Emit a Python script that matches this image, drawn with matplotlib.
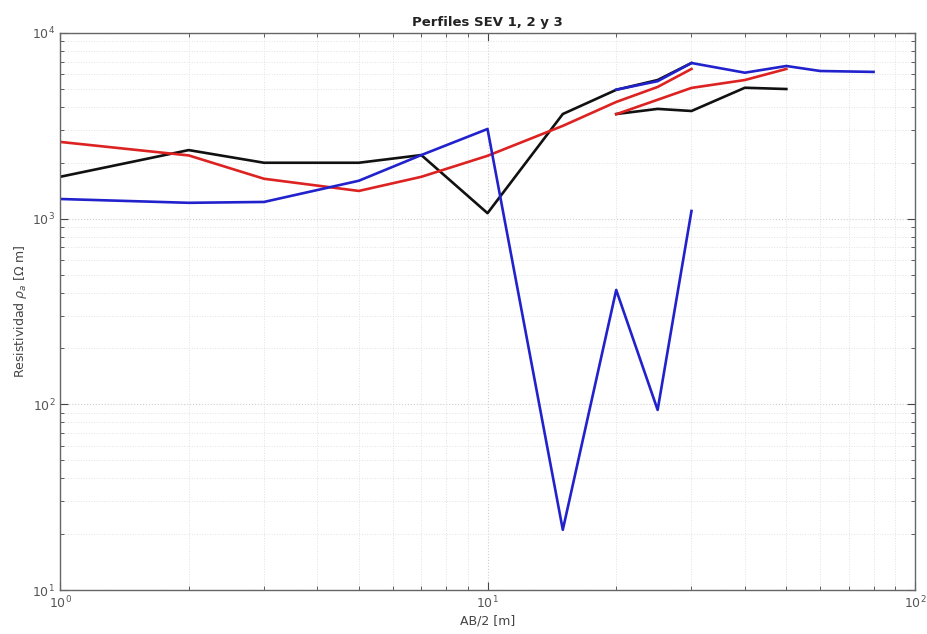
import matplotlib
matplotlib.use("Agg")
import matplotlib.pyplot as plt
from matplotlib.ticker import LogLocator, NullFormatter

# SEV 1 (black)
sev1_a_x = [1, 2, 3, 5, 7, 10, 15, 20, 25, 30]
sev1_a_y = [1680, 2340, 2000, 2000, 2200, 1070, 3660, 4940, 5580, 6890]
sev1_b_x = [20, 25, 30, 40, 50]
sev1_b_y = [3660, 3900, 3800, 5070, 4990]

# SEV 2 (red)
sev2_a_x = [1, 2, 3, 5, 7, 10, 15, 20, 25, 30]
sev2_a_y = [2590, 2190, 1640, 1410, 1680, 2180, 3160, 4250, 5120, 6400]
sev2_b_x = [20, 30, 40, 50]
sev2_b_y = [3650, 5060, 5580, 6400]

# SEV 3 (blue)
sev3_a_x = [1, 2, 3, 5, 7, 10, 15, 20, 25, 30]
sev3_a_y = [1276, 1217, 1230, 1600, 2200, 3040, 21.1, 413, 93.3, 1100]
sev3_b_x = [20, 25, 30, 40, 50, 60, 80]
sev3_b_y = [4950, 5500, 6890, 6110, 6640, 6240, 6170]

fig = plt.figure(figsize=(9.28, 6.34), dpi=100)
ax = fig.add_axes([0.0647, 0.0694, 0.9213, 0.8786])

lw = 1.9
ax.plot(sev1_a_x, sev1_a_y, color="#111111", lw=lw)
ax.plot(sev1_b_x, sev1_b_y, color="#111111", lw=lw)
ax.plot(sev2_a_x, sev2_a_y, color="#dd2222", lw=lw)
ax.plot(sev2_b_x, sev2_b_y, color="#dd2222", lw=lw)
ax.plot(sev3_a_x, sev3_a_y, color="#2222cc", lw=lw)
ax.plot(sev3_b_x, sev3_b_y, color="#2222cc", lw=lw)

ax.set_xscale("log")
ax.set_yscale("log")
ax.set_xlim(1, 100)
ax.set_ylim(10, 10000)

ax.xaxis.set_minor_locator(LogLocator(base=10, subs=range(2, 10)))
ax.yaxis.set_minor_locator(LogLocator(base=10, subs=range(2, 10)))
ax.xaxis.set_minor_formatter(NullFormatter())
ax.yaxis.set_minor_formatter(NullFormatter())

ax.grid(True, which="major", color="#cfcfcf", linestyle=":", linewidth=0.8)
ax.grid(True, which="minor", color="#e2e2e2", linestyle=":", linewidth=0.7)
ax.set_axisbelow(True)

ax.tick_params(which="both", direction="in", top=True, right=True,
               colors="#444444", labelcolor="#555555", labelsize=9)
ax.tick_params(which="major", length=6)
ax.tick_params(which="minor", length=3)
for s in ax.spines.values():
    s.set_color("#666666")
    s.set_linewidth(1.0)

ax.set_title("Perfiles SEV 1, 2 y 3", fontsize=9.5, fontweight="bold", color="#222222", pad=5)
ax.set_xlabel("AB/2 [m]", fontsize=9, color="#444444", labelpad=2)
ax.set_ylabel(r"Resistividad $\rho_a$ [$\Omega$ m]", fontsize=9, color="#444444", labelpad=2)

fig.savefig("out.png", dpi=100, facecolor="white")
